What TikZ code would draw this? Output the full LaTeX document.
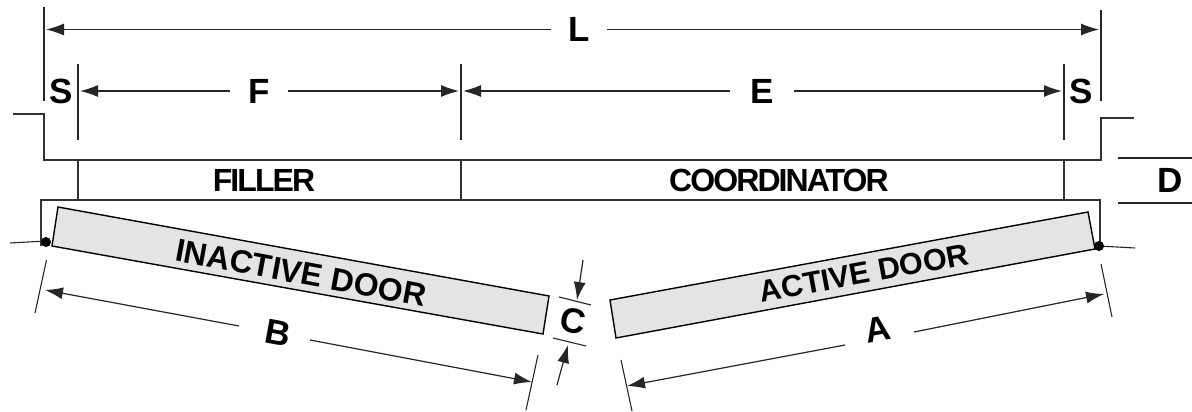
\documentclass[tikz,border=0pt]{standalone}
\usepackage{fontspec}
\setmainfont{Liberation Sans}
\newfontfamily\tightfont[LetterSpace=-6]{Liberation Sans}
\usetikzlibrary{arrows.meta}
\definecolor{linegray}{HTML}{333333}
\definecolor{doorgray}{HTML}{E3E4E6}
\tikzset{
	wall/.style={draw=linegray, line width=1.4pt},
	door/.style={draw=black, line width=1.4pt, fill=doorgray, line join=miter},
	dimline/.style={draw=black!85, line width=1.2pt, -{Latex[length=18pt,width=12pt]}},
	extline/.style={draw=black!85, line width=1.1pt},
	dimlabel/.style={circle, inner sep=0pt, minimum size=#1, font=\fontsize{35}{35}\selectfont\bfseries},
	partlabel/.style={inner sep=0pt, font=\fontsize{32}{32}\selectfont\tightfont\bfseries},
	doorlabel/.style={inner sep=0pt, font=\fontsize{#1}{#1}\selectfont\bfseries}
}

\begin{document}
\begin{tikzpicture}[x=1pt, y=-1pt]
		%%%%% START %%%%%
		\useasboundingbox (0, 0) rectangle (1192, 412);
		
		% opening and frame
		\draw[wall] (13, 114) -- (44, 114) -- (44, 160) -- (1101, 160) -- (1101, 118) -- (1134, 118);
		\draw[wall] (41, 246) -- (41, 200) -- (1100, 200) -- (1100, 246);
		\draw[wall] (78, 160) -- (78, 200);
		\draw[wall] (461, 160) -- (461, 200);
		\draw[wall] (1064, 160) -- (1064, 200);
		\node[partlabel] (filler) at (264, 180) {FILLER};
		\node[partlabel] (coordinator) at (779, 180) {COORDINATOR};
		
		% doors
		\draw[door] (58, 207) -- (549, 296) -- (543, 334) -- (52, 246) -- cycle;
		\draw[door] (610, 300) -- (1088, 212) -- (1095, 249) -- (616, 338) -- cycle;
		\node[doorlabel=32, rotate=-10.5] (inactive) at (301, 273) {INACTIVE DOOR};
		\node[doorlabel=30.5, rotate=10.5] (active) at (864, 273) {ACTIVE DOOR};
		
		% hinges
		\draw[extline] (10, 243) -- (46, 241);
		\draw[extline] (1099, 246) -- (1135, 248);
		\fill (46, 242) circle (5);
		\fill (1099, 246) circle (5);
		
		% extension lines
		\draw[extline] (44, 7) -- (44, 101);
		\draw[extline] (1101, 10) -- (1101, 101);
		\draw[extline] (78, 64) -- (78, 140);
		\draw[extline] (461, 64) -- (461, 140);
		\draw[extline] (1064, 64) -- (1064, 140);
		\draw[extline] (46.5, 260) -- (35, 313);
		\draw[extline] (538, 355) -- (526, 410);
		\draw[extline] (621, 360) -- (632, 411);
		\draw[extline] (1101, 264) -- (1112, 317);
		\draw[extline] (559, 297) -- (591, 305);
		\draw[extline] (553, 338) -- (586, 346);
		\draw[extline] (1118, 158) -- (1192, 158);
		\draw[extline] (1118, 203) -- (1192, 203);
		
		% dimensions
		\node[dimlabel=56pt] (L) at (579, 29.5) {L};
		\node[dimlabel=58pt] (F) at (259, 91) {F};
		\node[dimlabel=63pt] (E) at (762, 91) {E};
		\node[dimlabel=10pt, rotate=-10.5] (B) at (278, 333) {B};
		\node[dimlabel=10pt, rotate=10.5] (A) at (877.5, 329) {A};
		\node[dimlabel=10pt] (S1) at (61, 91) {S};
		\node[dimlabel=10pt] (S2) at (1081, 91) {S};
		\node[dimlabel=10pt] (D) at (1170, 180) {D};
		\node[dimlabel=10pt, rotate=-10.5] (C) at (573, 321) {C};
		
		\draw[dimline] (L) -- (46, 29.5);
		\draw[dimline] (L) -- (1099, 29.5);
		\draw[dimline] (F) -- (80, 91);
		\draw[dimline] (F) -- (459, 91);
		\draw[dimline] (E) -- (463, 91);
		\draw[dimline] (E) -- (1062, 91);
		\draw[dimline] (239, 326) -- (45, 290);
		\draw[dimline] (310, 340) -- (532, 382);
		\draw[dimline] (845, 345) -- (627, 386);
		\draw[dimline] (914, 332) -- (1104, 294);
		\draw[dimline] (583, 260) -- (577, 300);
		\draw[dimline] (557, 385) -- (568, 345);
		%%%%% END %%%%%
	\end{tikzpicture}
\end{document}
